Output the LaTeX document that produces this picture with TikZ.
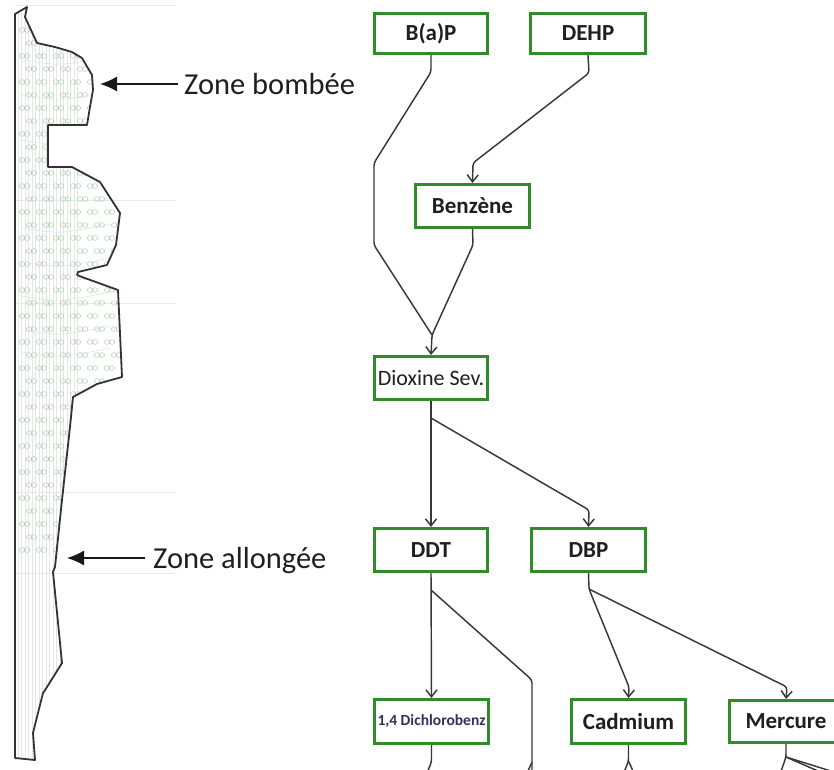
\documentclass[tikz,border=0pt]{standalone}
\usepackage{fontspec}
\setmainfont{Carlito}
\usetikzlibrary{arrows.meta}
\definecolor{boxgreen}{RGB}{48,140,40}
\definecolor{linegray}{RGB}{55,55,55}
\definecolor{faintgreen}{RGB}{165,210,165}
\definecolor{darkblue}{RGB}{50,50,95}
\begin{document}
\begin{tikzpicture}[x=1pt,y=-1pt,
  chem/.style={draw=boxgreen,line width=2.6pt,fill=white,minimum width=113.5pt,minimum height=43.5pt,inner sep=0pt,font=\bfseries\fontsize{23}{26}\selectfont,text=black!88},
  conn/.style={draw=linegray,line width=1.45pt,rounded corners=3pt},
  arr/.style={conn,-{Straight Barb[length=7pt,width=11pt]}},
  zonelabel/.style={anchor=base west,inner sep=0pt,font=\fontsize{30.5}{32}\selectfont,text=black!88},
  zonearrow/.style={draw=black!90,line width=1.4pt,-{Latex[length=17pt,width=15pt]}},
  outline/.style={draw=black!80,line width=1.8pt,line join=round},
  faint/.style={draw=gray!18,line width=0.6pt}]
\useasboundingbox (0,0) rectangle (834,769);
\fill[white] (0,0) rectangle (834,769);

% ---------- left: graph overview ----------
\foreach \yy in {5,200,303,492,573} \draw[faint] (15,\yy) -- (175,\yy);
\begin{scope}
\clip (15,14) -- (27,7) -- (25,17) -- (37,43) -- (55,47) -- (72,52) -- (82,58) -- (92,75) -- (93,90) -- (90,107) -- (87,125) -- (48,125) -- (48,167) -- (72,167) -- (100,182) -- (120,213) -- (116,245) -- (107,265) -- (78,272) -- (77,275) -- (82,277) -- (118,290) -- (122,377) -- (97,384) -- (73,397) -- (70,427) -- (62,500) -- (55,567) -- (53,572) -- (62,663) -- (47,687) -- (43,693) -- (33,733) -- (35,760) -- (15,758) -- cycle;
\foreach \x in {18,21.5,...,80} \draw[gray!20,line width=0.35pt] (\x,10) -- (\x,760);
\foreach \r in {0,...,40} {
  \foreach \c in {0,...,7} {
    \pgfmathsetmacro\yy{30+13*\r}
    \pgfmathsetmacro\xx{22+17*\c+mod(\r,2)*7}
    \draw[faintgreen,line width=0.45pt] (\xx,\yy) ellipse (2.6pt and 2.4pt) (\xx+5,\yy) ellipse (2.6pt and 2.4pt);
  }
}
\foreach \yy in {60,95,140,228,262,296,330,352} \draw[gray!25,line width=0.5pt] (22,\yy) .. controls (60,\yy+6) .. (110,\yy-4);
\end{scope}
\draw[outline] (15,14) -- (27,7) -- (25,17) -- (37,43) -- (55,47) -- (72,52) -- (82,58) -- (92,75) -- (93,90) -- (90,107) -- (87,125) -- (48,125) -- (48,167) -- (72,167) -- (100,182) -- (120,213) -- (116,245) -- (107,265) -- (78,272) -- (77,275) -- (82,277) -- (118,290) -- (122,377) -- (97,384) -- (73,397) -- (70,427) -- (62,500) -- (55,567) -- (53,572) -- (62,663) -- (47,687) -- (43,693) -- (33,733) -- (35,760) -- (15,758) -- cycle;

\node[zonelabel] (zb) at (184,94) {Zone bombée};
\coordinate (zbtip) at (100,84);
\draw[zonearrow] (178,84) -- (zbtip);
\node[zonelabel] (za) at (153,568) {Zone allongée};
\coordinate (zatip) at (67,558);
\draw[zonearrow] (145,558) -- (zatip);

% ---------- right: chemical graph ----------
\node[chem,minimum height=40.5pt] (bap) at (431,33.5) {B(a)P};
\node[chem,minimum height=40.5pt,minimum width=115.5pt] (dehp) at (588,33.5) {DEHP};
\node[chem] (benz) at (472.5,206) {Benzène};
\node[chem,font=\fontsize{22}{24}\selectfont] (diox) at (431,378) {Dioxine Sev.};
\node[chem] (ddt) at (431,550) {DDT};
\node[chem] (dbp) at (588.5,550) {DBP};
\node[chem,minimum height=44.5pt,font=\bfseries\fontsize{15.5}{18}\selectfont,text=darkblue] (dich) at (431.5,721.5) {1,4 Dichlorobenz};
\node[chem,minimum height=44.5pt] (cad) at (628.5,721.5) {Cadmium};
\node[chem,minimum height=42.5pt] (merc) at (786,721.5) {Mercure};

\coordinate (m1) at (432,335);
\draw[conn] (bap.south) -- (431,72) -- (374,163) -- (374,245) -- (m1);
\draw[arr] (benz.south) -- (473,245) -- (m1) -- (diox.north);
\draw[arr] (dehp.south) -- (589,73) -- (473,163) -- (benz.north);

\draw[arr] (diox.south) -- (ddt.north);
\draw[arr] (431,418) -- (589,510) -- (dbp.north);

\draw[arr] (ddt.south) -- (dich.north);
\coordinate (o1) at (532,800);
\draw[conn] (431,590) -- (532,680) -- (o1);

\draw[arr] (dbp.south) -- (589,589) -- (629,687) -- (cad.north);
\draw[arr] (589,589) -- (787,687) -- (merc.north);

% ---------- bottom stubs ----------
\coordinate (s1) at (424,780);
\coordinate (s2) at (524,780);
\coordinate (s3l) at (621,780);
\coordinate (s3r) at (637,780);
\coordinate (s4l) at (778,780);
\coordinate (s4a) at (834,772);
\coordinate (s4b) at (834,778);
\draw[conn] (dich.south) -- (431.5,762) -- (s1);
\draw[conn] (532,762) -- (s2);
\draw[conn] (cad.south) -- (628.5,761) -- (s3l);
\draw[conn] (628.5,761) -- (s3r);
\draw[conn] (merc.south) -- (786,757) -- (s4l);
\draw[conn] (786,757) -- (s4a);
\draw[conn] (786,757) -- (s4b);
\end{tikzpicture}
\end{document}
